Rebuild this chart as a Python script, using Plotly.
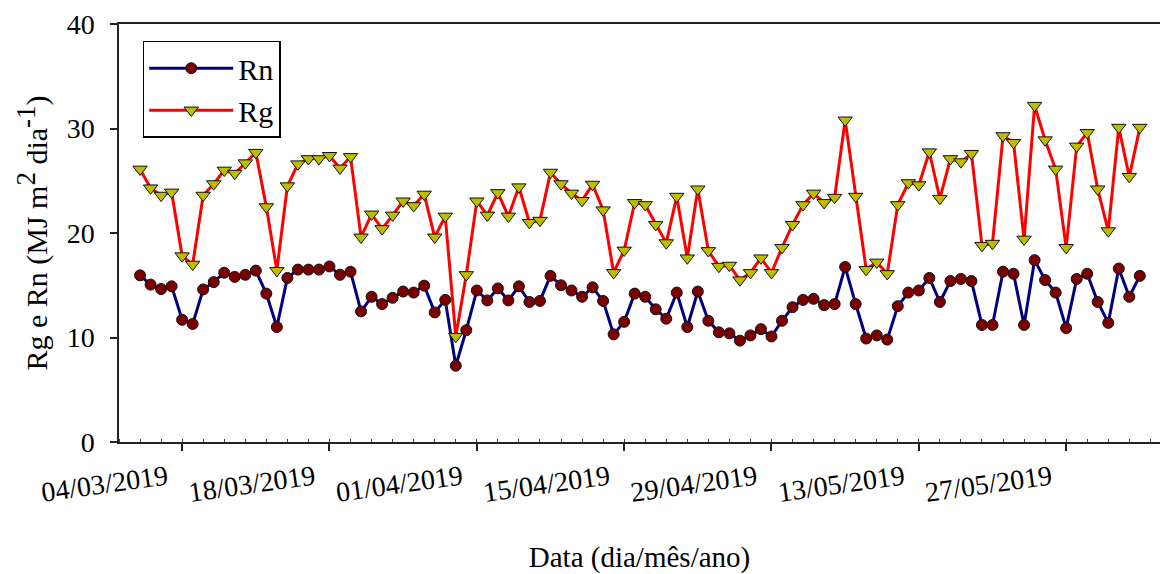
import pandas as pd
import plotly.graph_objects as go

start_date = "2019-02-28"

rg = [26.1, 24.3, 23.6, 23.9, 17.8, 17.0, 23.6, 24.7, 26.0, 25.7, 26.7, 27.7, 22.5, 16.4, 24.5, 26.6,
      27.1, 27.1, 27.4, 26.2, 27.3, 19.6, 21.8, 20.4,
      21.7, 23.05, 22.6, 23.7, 19.6, 21.6, 10.1, 16.0, 23.05, 21.7, 23.85, 21.6, 24.4, 21.0, 21.2, 25.8,
      24.7, 23.8, 23.1, 24.65, 22.2, 16.2, 18.35, 22.9, 22.7,
      20.8, 19.05, 23.5, 17.6, 24.2, 18.3, 16.8, 16.9, 15.5, 16.2, 17.6, 16.2, 18.6, 20.8, 22.7, 23.8,
      22.9, 23.4, 30.8, 23.5, 16.5, 17.2, 16.1, 22.7, 24.8,
      24.6, 27.75, 23.3, 27.1, 26.8, 27.6, 18.8, 19.0, 29.3, 28.65, 19.4, 32.2, 28.9, 26.1, 18.6, 28.3,
      29.6, 24.2, 20.2, 30.1, 25.4, 30.1]

rn = [15.95, 15.06, 14.64, 14.9, 11.7, 11.3, 14.6, 15.3, 16.2, 15.8, 16.0, 16.4, 14.2, 11.0, 15.7, 16.5,
      16.5, 16.5, 16.8, 16.0, 16.3, 12.5, 13.9, 13.2,
      13.8, 14.4, 14.3, 14.96, 12.4, 13.6, 7.3, 10.7, 14.5, 13.55, 14.7, 13.55, 14.9, 13.4, 13.5, 15.9,
      15.0, 14.5, 13.9, 14.8, 13.5, 10.3, 11.5, 14.2, 13.9,
      12.7, 11.8, 14.3, 11.0, 14.4, 11.6, 10.5, 10.4, 9.7, 10.2, 10.8, 10.1, 11.6, 12.9, 13.6, 13.7,
      13.1, 13.2, 16.75, 13.2, 9.9, 10.2, 9.8, 13.0, 14.3,
      14.5, 15.7, 13.4, 15.4, 15.6, 15.4, 11.2, 11.2, 16.3, 16.1, 11.2, 17.4, 15.5, 14.3, 10.9, 15.6,
      16.1, 13.4, 11.4, 16.6, 13.9, 15.9]

tick_dates = ["2019-03-04", "2019-03-18", "2019-04-01", "2019-04-15",
              "2019-04-29", "2019-05-13", "2019-05-27"]
tick_labels = ["04/03/2019", "18/03/2019", "01/04/2019", "15/04/2019",
               "29/04/2019", "13/05/2019", "27/05/2019"]
y_ticks = [0, 10, 20, 30, 40]

dates = pd.date_range(start_date, periods=len(rg), freq="D")

FONT = "Liberation Serif"
FS = 28

fig = go.Figure()
fig.add_trace(go.Scatter(
    x=dates, y=rn, name="Rn", mode="lines+markers",
    line=dict(color="#000080", width=3),
    marker=dict(symbol="circle", size=11, color="#7a0000", line=dict(color="#111111", width=1)),
))
fig.add_trace(go.Scatter(
    x=dates, y=rg, name="Rg", mode="lines+markers",
    line=dict(color="#ff0000", width=3),
    marker=dict(symbol="triangle-down", size=12.5, color="#bdbd00", line=dict(color="#111111", width=1)),
))

ytitle = ("Rg e Rn (MJ m<sup><span style='font-size:27px'>2</span></sup> "
          "dia<sup><span style='font-size:27px'>-1</span></sup>)")

fig.update_layout(
    width=1160, height=574,
    margin=dict(l=119, r=0, t=24, b=132),
    paper_bgcolor="white", plot_bgcolor="white",
    font=dict(family=FONT, size=FS, color="black"),
    showlegend=True,
    legend=dict(
        x=0.0228, y=0.96, xanchor="left", yanchor="top",
        bordercolor="black", borderwidth=1.5, bgcolor="white",
        font=dict(family=FONT, size=30, color="black"),
        itemwidth=84, tracegroupgap=0,
    ),
    xaxis=dict(
        type="date",
        range=["2019-02-26", "2019-06-04 22:00"],
        tickmode="array", tickvals=tick_dates, ticktext=tick_labels,
        tickangle=-8, ticks="outside", ticklen=7, tickwidth=1.5, tickcolor="#222222",
        tickfont=dict(family=FONT, size=FS),
        ticklabelshift=-15, ticklabelstandoff=0,
        showline=True, linecolor="#222222", linewidth=1.5, mirror=True,
        showgrid=False, zeroline=False,
        minor=dict(dtick=2 * 86400000, tick0="2019-03-04", ticks="inside", ticklen=3,
                   tickwidth=1, tickcolor="#444444", showgrid=False),
        title=dict(text="Data (dia/mês/ano)", font=dict(family=FONT, size=29), standoff=40),
        automargin=False,
    ),
    yaxis=dict(
        range=[0, 40], tickmode="array", tickvals=y_ticks,
        ticks="outside", ticklen=7, tickwidth=1.5, tickcolor="#222222",
        tickfont=dict(family=FONT, size=FS),
        ticklabelstandoff=10,
        showline=True, linecolor="#222222", linewidth=1.5,
        showgrid=False, zeroline=False,
        title=dict(text=ytitle, font=dict(family=FONT, size=30), standoff=10),
        automargin=False,
    ),
)

fig.write_html("out.html")
